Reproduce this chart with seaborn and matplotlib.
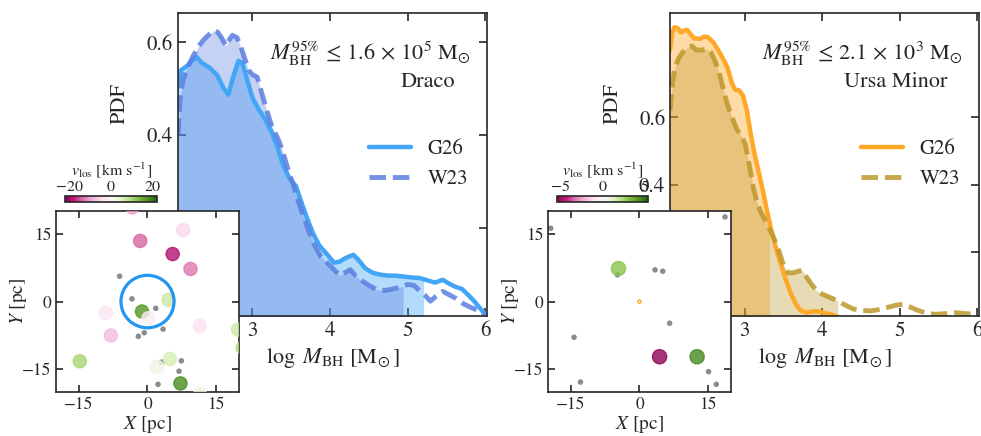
import matplotlib as mpl
mpl.use('Agg')
import matplotlib.pyplot as plt
import numpy as np
import seaborn as sns
from matplotlib.patches import Circle

# ---- PDF of log M_BH ----
draco_g26_x = [2.04, 2.08, 2.15, 2.22, 2.28, 2.35, 2.45, 2.55, 2.63, 2.69, 2.75, 2.82, 2.87, 2.93,
               3.00, 3.08, 3.16, 3.25, 3.33, 3.40, 3.48, 3.56, 3.63, 3.70, 3.78, 3.86, 3.95, 4.05,
               4.12, 4.20, 4.30, 4.37, 4.45, 4.55, 4.65, 4.75, 4.85, 4.95, 5.05, 5.15, 5.25, 5.35,
               5.45, 5.52, 5.60, 5.70, 5.78, 5.85, 5.93, 6.00]
draco_g26_y = [0.505, 0.540, 0.548, 0.560, 0.568, 0.555, 0.545, 0.528, 0.500, 0.487, 0.525, 0.560,
               0.555, 0.520, 0.480, 0.455, 0.435, 0.405, 0.370, 0.332, 0.305, 0.290, 0.255, 0.222,
               0.188, 0.162, 0.145, 0.125, 0.127, 0.135, 0.142, 0.130, 0.113, 0.103, 0.099, 0.097,
               0.097, 0.095, 0.093, 0.092, 0.087, 0.082, 0.088, 0.081, 0.074, 0.068, 0.055, 0.043,
               0.027, 0.013]
draco_w23_x = [2.04, 2.07, 2.10, 2.15, 2.22, 2.30, 2.38, 2.45, 2.50, 2.55, 2.60, 2.66, 2.70, 2.74,
               2.80, 2.85, 2.90, 2.95, 3.00, 3.06, 3.12, 3.18, 3.25, 3.32, 3.38, 3.45, 3.52, 3.58,
               3.65, 3.72, 3.80, 3.88, 3.96, 4.05, 4.12, 4.20, 4.26, 4.32, 4.40, 4.50, 4.60, 4.70,
               4.80, 4.90, 5.00, 5.08, 5.15, 5.22, 5.29, 5.36, 5.45, 5.52, 5.62, 5.72, 5.82, 5.93, 5.98]
draco_w23_y = [0.400, 0.480, 0.515, 0.540, 0.565, 0.590, 0.607, 0.618, 0.625, 0.622, 0.610, 0.592,
               0.605, 0.615, 0.610, 0.590, 0.565, 0.540, 0.530, 0.525, 0.490, 0.455, 0.418, 0.395,
               0.370, 0.330, 0.295, 0.262, 0.228, 0.195, 0.162, 0.138, 0.125, 0.110, 0.098, 0.104,
               0.110, 0.098, 0.087, 0.076, 0.067, 0.065, 0.068, 0.072, 0.078, 0.076, 0.065, 0.055,
               0.042, 0.052, 0.063, 0.057, 0.048, 0.036, 0.028, 0.020, 0.013]

umi_g26_x = [2.04, 2.07, 2.10, 2.14, 2.18, 2.22, 2.26, 2.30, 2.35, 2.42, 2.48, 2.53, 2.60, 2.66,
             2.72, 2.78, 2.84, 2.88, 2.93, 2.98, 3.03, 3.08, 3.13, 3.18, 3.24, 3.30, 3.36, 3.42,
             3.48, 3.54, 3.60, 3.66, 3.72, 3.80, 3.88, 3.96, 4.05, 4.15, 4.30, 4.60, 5.00, 5.50, 6.00]
umi_g26_y = [0.800, 0.855, 0.868, 0.865, 0.852, 0.858, 0.860, 0.848, 0.835, 0.833, 0.840, 0.838,
             0.822, 0.800, 0.775, 0.748, 0.700, 0.682, 0.680, 0.665, 0.620, 0.550, 0.490, 0.440,
             0.378, 0.310, 0.250, 0.198, 0.155, 0.112, 0.075, 0.045, 0.027, 0.020, 0.024, 0.023,
             0.018, 0.012, 0.0, 0.0, 0.0, 0.0, 0.0]
umi_w23_x = [2.04, 2.07, 2.10, 2.15, 2.20, 2.26, 2.32, 2.38, 2.45, 2.52, 2.57, 2.62, 2.67, 2.72,
             2.77, 2.83, 2.90, 2.96, 3.01, 3.06, 3.11, 3.16, 3.21, 3.27, 3.33, 3.38, 3.44, 3.50,
             3.56, 3.62, 3.68, 3.74, 3.80, 3.86, 3.93, 4.00, 4.10, 4.20, 4.30, 4.40, 4.50, 4.62,
             4.75, 4.85, 4.95, 5.04, 5.12, 5.22, 5.32, 5.45, 5.58, 5.72, 5.85, 6.00]
umi_w23_y = [0.620, 0.700, 0.745, 0.775, 0.793, 0.808, 0.812, 0.800, 0.800, 0.803, 0.792, 0.768,
             0.735, 0.690, 0.645, 0.605, 0.565, 0.545, 0.520, 0.460, 0.395, 0.348, 0.318, 0.292,
             0.265, 0.240, 0.205, 0.162, 0.138, 0.138, 0.142, 0.146, 0.125, 0.105, 0.085, 0.075,
             0.065, 0.055, 0.042, 0.031, 0.027, 0.025, 0.030, 0.036, 0.042, 0.045, 0.038, 0.028,
             0.020, 0.015, 0.017, 0.020, 0.017, 0.015]

# 95% upper limits (log M_BH) where the shading stops
draco_lim = {'G26': 5.204, 'W23': 4.94}
umi_lim = {'G26': 3.322, 'W23': 4.20}

# ---- stars around the centre (pc) ----
draco_vel_x = [-1.6, 5.5, 9.4, 7.8, -3.3, 4.6, -1.2, 0.2, -9.1, -8.0, 11.4, 19.8, 20.8, -14.8, 4.9, 2.1, 7.2, 11.5]
draco_vel_y = [13.4, 10.5, 7.2, 15.8, 20.8, 0.4, -2.2, -3.7, -2.5, -7.5, -5.4, -6.2, -10.2, -13.2, -12.7, -14.4, -18.1, -20.5]
draco_vlos = [-14, -19, -13, -5, -10, 7, 17, -2, -3, -8, -4, 7, 9, 10, 6, 2, 18, 3]
draco_novel_x = [-6.1, -3.4, 1.8, 3.4, -0.7, -2.0, 7.4, 6.9, 2.3, 3.1]
draco_novel_y = [5.6, 0.6, -1.5, -6.1, -6.9, -7.7, -13.1, -15.4, -18.3, -13.4]
draco_r95 = 5.8

umi_vel_x = [-4.6, 4.4, 12.6]
umi_vel_y = [7.3, -12.2, -12.2]
umi_vlos = [3.0, -5.3, 4.5]
umi_novel_x = [-19.4, 18.7, -4.8, 3.4, 5.1, 6.6, -14.3, -12.9, 15.1, 16.8]
umi_novel_y = [16.2, 18.7, 5.9, 7.0, 6.7, -4.8, -7.9, -17.8, -15.5, -18.3]
umi_r95 = 0.35

sns.set_style('ticks')
plt.rcParams['font.family'] = ['STIXGeneral', 'DejaVu Serif']
plt.rcParams['mathtext.fontset'] = 'stix'
plt.rcParams['axes.linewidth'] = 1.2

MSUN = r'$\mathrm{M}_{\!\odot}$'


def fill_upto(ax, x, y, lim, color, alpha):
    x = np.asarray(x)
    y = np.asarray(y)
    m = x <= lim
    xf = np.append(x[m], lim)
    yf = np.append(y[m], np.interp(lim, x, y))
    ax.fill_between(xf, 0, yf, color=color, alpha=alpha, lw=0)


def pdf_panel(ax, g_x, g_y, w_x, w_y, lims, c_g, c_w, ylim, txt, name):
    fill_upto(ax, g_x, g_y, lims['G26'], c_g, 0.4)
    fill_upto(ax, w_x, w_y, lims['W23'], c_w, 0.35)
    sns.lineplot(x=g_x, y=g_y, ax=ax, color=c_g, lw=3.2, label='G26')
    sns.lineplot(x=w_x, y=w_y, ax=ax, color=c_w, lw=3.5, alpha=0.85, label='W23')
    ax.lines[-1].set_dashes((3.4, 1.4))
    ax.set_xlim(2.04, 6.02)
    ax.set_ylim(*ylim)
    ax.set_xticks([3, 4, 5, 6])
    ax.set_yticks([0.2, 0.4, 0.6])
    ax.tick_params(direction='in', top=True, right=True, labelsize=15, length=6, width=1.2)
    ax.set_xlabel(r'$\log\ M_{\rm BH}$ [' + MSUN + ']', fontsize=16)
    ax.set_ylabel('PDF', fontsize=16)
    ax.yaxis.set_label_coords(-0.155, 0.70)
    ax.text(0.948, 0.868, txt, transform=ax.transAxes, ha='right', va='center', fontsize=16)
    ax.text(0.896, 0.772, name, transform=ax.transAxes, ha='right', va='center', fontsize=16)
    ax.legend(loc='center right', frameon=False, fontsize=15, handlelength=2.0)


def star_panel(fig, ax_rect, cax_rect, vx, vy, vlos, nx, ny, vlim, ticks, r95, c_r, size):
    ax = fig.add_axes(ax_rect)
    ax.set_facecolor('white')
    sns.scatterplot(x=nx, y=ny, ax=ax, color='grey', s=16, alpha=0.9, edgecolor='none', zorder=2)
    sns.scatterplot(x=vx, y=vy, hue=vlos, palette='PiYG', hue_norm=(-vlim, vlim), ax=ax,
                    s=size, alpha=0.8, edgecolor='face', linewidth=1.0, legend=False, zorder=3)
    ax.add_patch(Circle((0, 0), r95, fill=False, ec=c_r, lw=2.3 if r95 > 1 else 1.0, zorder=4))
    ax.set_xlim(-20, 20)
    ax.set_ylim(-20, 20)
    ax.set_xticks([-15, 0, 15])
    ax.set_yticks([-15, 0, 15])
    ax.tick_params(direction='in', top=True, right=True, labelsize=12.5, length=5, width=1.2)
    ax.set_xlabel(r'$X$ [pc]', fontsize=14, labelpad=1)
    ax.set_ylabel(r'$Y$ [pc]', fontsize=14)
    ax.yaxis.set_label_coords(-0.15, 0.5)

    cax = fig.add_axes(cax_rect)
    sm = mpl.cm.ScalarMappable(norm=mpl.colors.Normalize(-vlim, vlim), cmap='PiYG')
    cb = fig.colorbar(sm, cax=cax, orientation='horizontal', ticks=ticks)
    cb.outline.set_linewidth(1.2)
    cax.xaxis.set_ticks_position('both')
    cax.xaxis.set_label_position('top')
    cax.tick_params(direction='in', length=3, width=1, labelsize=11.5, labeltop=True,
                    labelbottom=False, pad=1.5)
    cb.set_label(r'$v_{\rm los}$ [km s$^{-1}$]', fontsize=11.5, labelpad=4)
    return ax


fig = plt.figure(figsize=(9.81, 4.36), dpi=100)

ax1 = fig.add_axes([0.1814, 0.2752, 0.315, 0.695])
pdf_panel(ax1, draco_g26_x, draco_g26_y, draco_w23_x, draco_w23_y, draco_lim,
          '#42A5F5', '#5C7FE0', (0.01, 0.663),
          r'$M_{\rm BH}^{95\%}\,\leq\,1.6\,\times\,10^{5}\ \mathrm{M}_{\!\odot}$', 'Draco')

ax2 = fig.add_axes([0.683, 0.2752, 0.315, 0.695])
pdf_panel(ax2, umi_g26_x, umi_g26_y, umi_w23_x, umi_w23_y, umi_lim,
          '#FFA726', '#BD982B', (0.01, 0.91),
          r'$M_{\rm BH}^{95\%}\,\leq\,2.1\,\times\,10^{3}\ \mathrm{M}_{\!\odot}$', 'Ursa Minor')

star_panel(fig, [0.0571, 0.1009, 0.1865, 0.415], [0.0663, 0.5367, 0.0938, 0.0138],
           draco_vel_x, draco_vel_y, draco_vlos, draco_novel_x, draco_novel_y,
           22, [-20, 0, 20], draco_r95, '#2196F3', 90)
star_panel(fig, [0.5586, 0.1009, 0.1865, 0.415], [0.5678, 0.5367, 0.0928, 0.0138],
           umi_vel_x, umi_vel_y, umi_vlos, umi_novel_x, umi_novel_y,
           5.4, [-5, 0, 5], umi_r95, '#FFA726', 105)

fig.savefig('out.png', dpi=100)
